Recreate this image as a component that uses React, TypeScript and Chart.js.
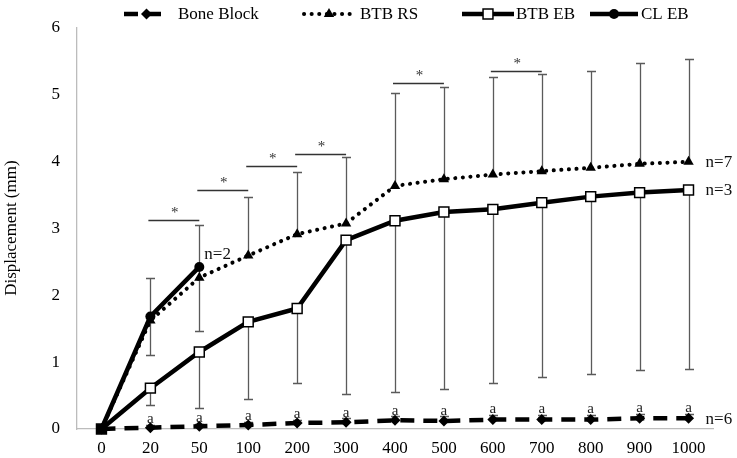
import React, { useEffect, useRef } from 'react';
import { Chart, registerables } from 'chart.js';
import { drawPoint } from 'chart.js/helpers';

Chart.register(...registerables);

// ---------- data ----------
const categories = ['0', '20', '50', '100', '200', '300', '400', '500', '600', '700', '800', '900', '1000'];

const boneBlock = [0, 0.02, 0.04, 0.06, 0.09, 0.1, 0.13, 0.12, 0.14, 0.14, 0.14, 0.16, 0.16];
const boneBlockSD = [0, 0.04, 0.04, 0.05, 0.05, 0.06, 0.06, 0.07, 0.07, 0.07, 0.07, 0.07, 0.07];

const btbRS = [0, 1.62, 2.26, 2.59, 2.91, 3.07, 3.63, 3.73, 3.8, 3.85, 3.9, 3.96, 3.99];
const btbRSPlusSD = [0, 0.63, 0.79, 0.88, 0.93, 0.99, 1.38, 1.37, 1.45, 1.45, 1.44, 1.5, 1.53];
const btbRSMinusSD = [0, 0.52, 0.79, 0, 0, 0, 0, 0, 0, 0, 0, 0, 0];

const btbEB = [0, 0.61, 1.15, 1.6, 1.8, 2.82, 3.11, 3.24, 3.28, 3.38, 3.47, 3.53, 3.57];
const btbEBMinusSD = [0, 0.25, 0.83, 1.15, 1.11, 2.3, 2.56, 2.64, 2.6, 2.61, 2.65, 2.65, 2.68];

const clEB = [0, 1.68, 2.42, null, null, null, null, null, null, null, null, null, null];

const seriesLabels = ['Bone Block', 'BTB RS', 'BTB EB', 'CL EB'];

// significance brackets (from category, to category, level in mm)
const sigFrom = ['20', '50', '100', '200', '400', '600'];
const sigTo = ['50', '100', '200', '300', '500', '700'];
const sigLevel = [3.12, 3.57, 3.92, 4.11, 5.16, 5.35];

const boneLetter = 'a';

const nText = ['n=2', 'n=7', 'n=3', 'n=6'];
const nSeries = [3, 1, 2, 0];
const nCategory = ['50', '1000', '1000', '1000'];

const yMin = 0;
const yMax = 6;
const yStep = 1;

const SERIF = '"Liberation Serif", "Times New Roman", serif';

const annotPlugin = {
  id: 'annot',
  beforeDatasetsDraw(chart: any) {
    const ctx = chart.ctx;
    const xs = chart.scales.x;
    const ys = chart.scales.y;
    ctx.save();
    ctx.strokeStyle = '#5a5a5a';
    ctx.lineWidth = 1.3;
    const cap = 4.5;
    const bar = (i: number, from: number, to: number) => {
      const px = Math.round(xs.getPixelForValue(i)) + 0.5;
      const p0 = ys.getPixelForValue(from);
      const p1 = Math.round(ys.getPixelForValue(to)) + 0.5;
      ctx.beginPath();
      ctx.moveTo(px, p0);
      ctx.lineTo(px, p1);
      ctx.moveTo(px - cap, p1);
      ctx.lineTo(px + cap, p1);
      ctx.stroke();
    };
    categories.forEach((_c, i) => {
      if (btbRSPlusSD[i]) bar(i, btbRS[i], btbRS[i] + btbRSPlusSD[i]);
      if (btbRSMinusSD[i]) bar(i, btbRS[i], btbRS[i] - btbRSMinusSD[i]);
      if (btbEBMinusSD[i]) bar(i, btbEB[i], btbEB[i] - btbEBMinusSD[i]);
      if (boneBlockSD[i]) bar(i, boneBlock[i], boneBlock[i] + boneBlockSD[i]);
    });
    ctx.restore();
  },
  afterDatasetsDraw(chart: any) {
    const ctx = chart.ctx;
    const xs = chart.scales.x;
    const ys = chart.scales.y;
    ctx.save();
    // significance brackets
    sigFrom.forEach((f, k) => {
      const x0 = xs.getPixelForValue(categories.indexOf(f));
      const x1 = xs.getPixelForValue(categories.indexOf(sigTo[k]));
      const py = Math.round(ys.getPixelForValue(sigLevel[k])) + 0.5;
      ctx.strokeStyle = '#333';
      ctx.lineWidth = 1.6;
      ctx.beginPath();
      ctx.moveTo(x0 - 2, py);
      ctx.lineTo(x1, py);
      ctx.stroke();
      ctx.fillStyle = '#333';
      ctx.font = `15px ${SERIF}`;
      ctx.textAlign = 'center';
      ctx.textBaseline = 'middle';
      ctx.fillText('*', (x0 + x1) / 2, py - 7);
    });
    // letters above bone block error bars
    ctx.fillStyle = '#222';
    ctx.font = `15px ${SERIF}`;
    ctx.textAlign = 'center';
    ctx.textBaseline = 'alphabetic';
    categories.forEach((_c, i) => {
      if (i === 0) return;
      const px = xs.getPixelForValue(i);
      const py = ys.getPixelForValue(boneBlock[i] + boneBlockSD[i]);
      ctx.fillText(boneLetter, px, py - 1.5);
    });
    // n labels
    ctx.fillStyle = '#111';
    ctx.font = `17px ${SERIF}`;
    ctx.textAlign = 'left';
    ctx.textBaseline = 'middle';
    nText.forEach((t, k) => {
      const ds = chart.data.datasets[nSeries[k]];
      const ci = categories.indexOf(nCategory[k]);
      const v = ds.data[ci];
      const px = xs.getPixelForValue(ci);
      const py = ys.getPixelForValue(v);
      if (k === 0) ctx.fillText(t, px + 5, py - 12);
      else ctx.fillText(t, px + 17, py + 1);
    });
    ctx.restore();
  },
  afterDraw(chart: any) {
    // legend drawn inside the plot top area
    const ctx = chart.ctx;
    const sampleX = [124, 304, 462, 590];
    const sampleW = [45, 50, 52, 48];
    const textX = [178, 360, 516, 641];
    const ly = 14;
    ctx.save();
    chart.data.datasets.forEach((ds: any, i: number) => {
      ctx.save();
      ctx.strokeStyle = ds.borderColor;
      ctx.lineWidth = ds.borderWidth;
      ctx.lineCap = ds.borderCapStyle || 'butt';
      ctx.setLineDash(ds.borderDash || []);
      ctx.beginPath();
      ctx.moveTo(sampleX[i], ly);
      ctx.lineTo(sampleX[i] + sampleW[i], ly);
      ctx.stroke();
      ctx.restore();
      ctx.save();
      ctx.fillStyle = ds.legendPointFill || ds.pointBackgroundColor;
      ctx.strokeStyle = ds.pointBorderColor;
      ctx.lineWidth = ds.pointBorderWidth;
      drawPoint(ctx, {
        pointStyle: ds.pointStyle,
        radius: ds.pointRadius,
        rotation: 0,
        borderWidth: ds.pointBorderWidth,
      }, sampleX[i] + sampleW[i] / 2, ly);
      ctx.restore();
      ctx.fillStyle = '#000';
      ctx.font = `17px ${SERIF}`;
      ctx.textAlign = 'left';
      ctx.textBaseline = 'middle';
      ctx.fillText(ds.label, textX[i], ly + 1);
    });
    ctx.restore();
  },
};

export default function App() {
  const ref = useRef<HTMLCanvasElement | null>(null);

  useEffect(() => {
    if (!ref.current) return;
    const chart = new Chart(ref.current, {
      type: 'line',
      data: {
        labels: categories,
        datasets: [
          {
            label: seriesLabels[0],
            data: boneBlock,
            borderColor: '#000',
            borderWidth: 4.5,
            borderDash: [14, 9],
            pointStyle: 'rectRot',
            pointRadius: 5.5,
            pointBackgroundColor: '#000',
            pointBorderColor: '#000',
            pointBorderWidth: 0,
            tension: 0,
            order: 3,
            clip: false,
          } as any,
          {
            label: seriesLabels[1],
            data: btbRS,
            borderColor: '#000',
            borderWidth: 4,
            borderDash: [0.1, 7.5],
            borderCapStyle: 'round',
            pointStyle: 'triangle',
            pointRadius: 6,
            pointBackgroundColor: '#000',
            pointBorderColor: '#000',
            pointBorderWidth: 0,
            tension: 0,
            order: 2,
            clip: false,
          } as any,
          {
            label: seriesLabels[2],
            data: btbEB,
            borderColor: '#000',
            borderWidth: 4.5,
            pointStyle: 'rect',
            pointRadius: 7,
            pointBackgroundColor: (c: any) => (c.dataIndex === 0 ? '#000' : '#fff'),
            legendPointFill: '#fff',
            pointBorderColor: '#000',
            pointBorderWidth: 1.5,
            tension: 0,
            order: 1,
            clip: false,
          } as any,
          {
            label: seriesLabels[3],
            data: clEB,
            borderColor: '#000',
            borderWidth: 4.5,
            pointStyle: 'circle',
            pointRadius: 5,
            pointBackgroundColor: '#000',
            pointBorderColor: '#000',
            pointBorderWidth: 0,
            tension: 0,
            order: 0,
            clip: false,
            spanGaps: false,
          } as any,
        ],
      },
      options: {
        animation: false,
        responsive: true,
        maintainAspectRatio: false,
        devicePixelRatio: 1,
        layout: { padding: { left: 0, right: 24, top: 12.7, bottom: 0 } },
        plugins: {
          legend: { display: false },
          tooltip: { enabled: false },
        },
        scales: {
          x: {
            type: 'category',
            offset: true,
            grid: { display: false, drawTicks: false },
            border: { display: true, color: '#bcbcbc', width: 1.3 },
            ticks: {
              color: '#000',
              font: { family: SERIF, size: 17 },
              padding: 9,
              maxRotation: 0,
              autoSkip: false,
            },
            afterFit: (s: any) => {
              s.height = 29;
            },
          },
          y: {
            min: yMin,
            max: yMax,
            grid: { display: false, drawTicks: false },
            border: { display: true, color: '#bcbcbc', width: 1.3 },
            ticks: {
              stepSize: yStep,
              color: '#000',
              font: { family: SERIF, size: 17 },
              padding: 17,
            },
            title: {
              display: true,
              text: 'Displacement (mm)',
              color: '#000',
              font: { family: SERIF, size: 17 },
              padding: { top: 1, bottom: 0 },
            },
            afterFit: (s: any) => {
              s.width = 77;
            },
          },
        },
      },
      plugins: [annotPlugin],
    });
    return () => chart.destroy();
  }, []);

  return (
    <div style={{ position: 'fixed', left: 0, top: 0, width: 737, height: 458, background: '#fff' }}>
      <canvas ref={ref} />
    </div>
  );
}
